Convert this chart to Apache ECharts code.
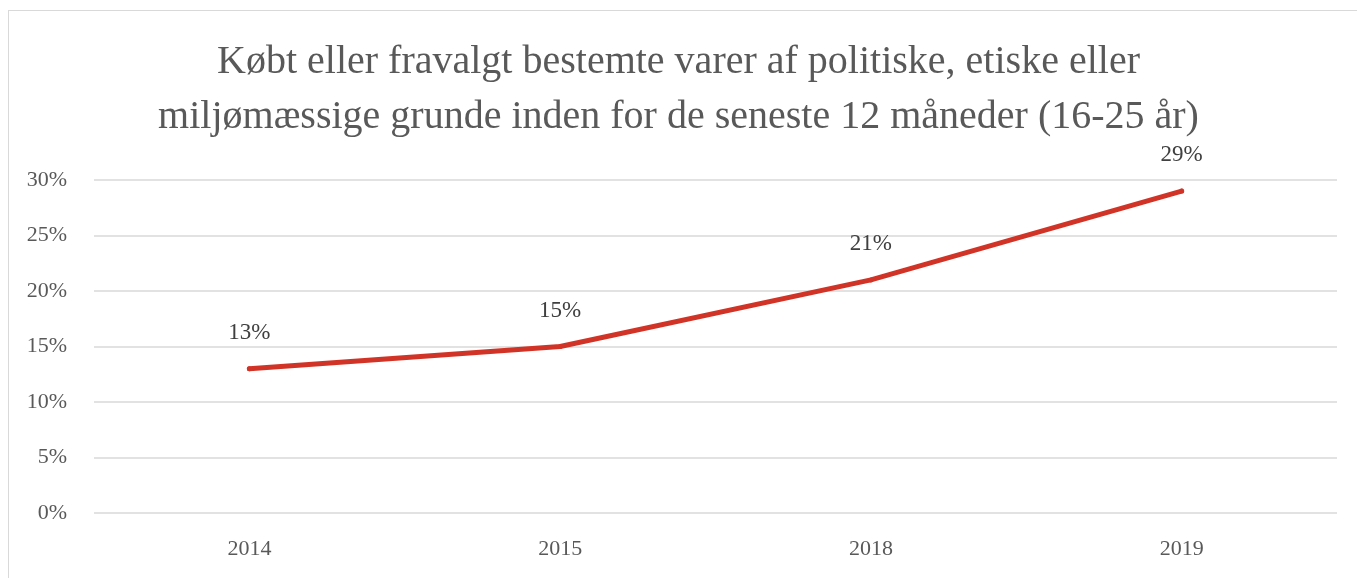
<!DOCTYPE html>
<html>
<head>
<meta charset="utf-8">
<script src="https://cdn.jsdelivr.net/npm/echarts@6/dist/echarts.min.js"></script>
<style>
  html, body { margin: 0; padding: 0; background: #fff; }
  .wrap { position: relative; width: 1357px; height: 578px; overflow: hidden; }
  .frame {
    position: absolute; left: 8px; top: 10px; width: 1400px; height: 600px;
    border: 1px solid #d9d9d9; box-sizing: border-box;
  }
  #chart { position: absolute; left: 0; top: 0; width: 1357px; height: 578px; }
</style>
</head>
<body>
<div class="wrap">
  <div class="frame"></div>
  <div id="chart"></div>
</div>
<script>
const titleText = 'Købt eller fravalgt bestemte varer af politiske, etiske eller\nmiljømæssige grunde inden for de seneste 12 måneder (16-25 år)'
const years = ['2014', '2015', '2018', '2019']
const shares = [13, 15, 21, 29]
const yTicks = [0, 5, 10, 15, 20, 25, 30]

const serif = '"Liberation Serif", "DejaVu Serif", serif'
const lineColor = '#d13427'
const myEcharts = echarts.init(document.getElementById('chart'))

myEcharts.setOption({
  animation: false,
  title: {
    text: titleText,
    left: 'center',
    top: 30,
    textStyle: {
      fontFamily: serif,
      fontSize: 40,
      fontWeight: 'normal',
      color: '#595959',
      lineHeight: 55
    }
  },
  grid: {
    left: 94,
    right: 20,
    top: 180,
    bottom: 65
  },
  xAxis: {
    type: 'category',
    data: years,
    boundaryGap: true,
    axisTick: { show: false },
    axisLine: { show: false },
    axisLabel: {
      margin: 25,
      fontFamily: serif,
      fontSize: 22,
      color: '#595959'
    }
  },
  yAxis: {
    type: 'value',
    min: yTicks[0],
    max: yTicks[yTicks.length - 1],
    interval: 5,
    axisLine: { show: false },
    axisTick: { show: false },
    axisLabel: {
      margin: 27,
      fontFamily: serif,
      fontSize: 22,
      color: '#595959',
      formatter: '{value}%'
    },
    splitLine: {
      show: true,
      lineStyle: { color: '#d9d9d9', width: 1.5 }
    }
  },
  series: [
    {
      type: 'line',
      data: shares,
      symbol: 'circle',
      symbolSize: 5,
      showSymbol: true,
      itemStyle: { color: lineColor, borderWidth: 0 },
      lineStyle: { color: lineColor, width: 5, cap: 'round', join: 'round' },
      label: {
        show: true,
        position: 'top',
        distance: 22,
        formatter: '{c}%',
        fontFamily: serif,
        fontSize: 23,
        color: '#404040'
      },
      labelLayout: { hideOverlap: false }
    }
  ]
})
</script>
</body>
</html>
